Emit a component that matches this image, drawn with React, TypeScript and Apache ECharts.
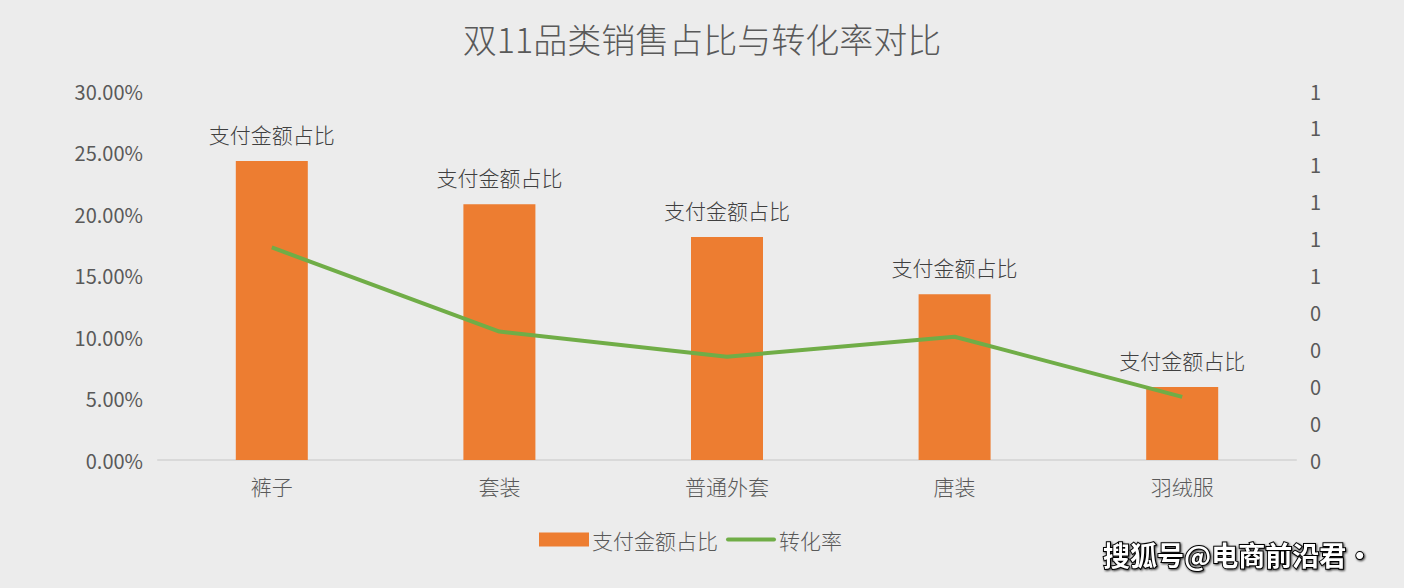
import React, { useEffect, useRef } from "react";
import * as echarts from "echarts";

const categories = ["裤子", "套装", "普通外套", "唐装", "羽绒服"];
const payShare = [0.2431, 0.2079, 0.1813, 0.1347, 0.0593];
const convRate = [0.576, 0.348, 0.28, 0.334, 0.171];
const barName = "支付金额占比";
const lineName = "转化率";
const titleText = "双11品类销售占比与转化率对比";
const watermark = "搜狐号@电商前沿君·";

const FONT = '"Noto Sans CJK SC", "Noto Sans", sans-serif';
const W = 300;

export default function App() {
  const ref = useRef<HTMLDivElement>(null);
  useEffect(() => {
    if (!ref.current) return;
    const chart = echarts.init(ref.current, null, { renderer: "svg" });
    chart.setOption({
      animation: false,
      backgroundColor: "#ececec",
      textStyle: { fontFamily: FONT },
      title: {
        text: titleText,
        left: "center",
        top: 16,
        textStyle: { fontSize: 34, fontWeight: W, color: "#595959", fontFamily: FONT },
      },
      legend: {
        left: 534,
        top: 524,
        itemWidth: 50,
        itemHeight: 14,
        itemGap: 8,
        textStyle: { fontSize: 21, fontWeight: W, color: "#595959", fontFamily: FONT, padding: [0, 0, 0, -2] },
        data: [
          { name: barName, icon: "rect" },
          {
            name: lineName,
            icon: "path://M2,0h46a2,2 0 0 1 0,4h-46a2,2 0 0 1 0,-4z",
            itemStyle: { color: "#70AD47" },
          },
        ],
      },
      grid: { left: 158, right: 108, top: 91, bottom: 128, containLabel: false },
      xAxis: {
        type: "category",
        data: categories,
        axisLine: { lineStyle: { color: "#d9d9d9", width: 2 } },
        axisTick: { show: false },
        axisLabel: { fontSize: 21, fontWeight: W, color: "#595959", margin: 15, fontFamily: FONT },
      },
      yAxis: [
        {
          type: "value",
          min: 0,
          max: 0.3,
          interval: 0.05,
          splitLine: { show: false },
          axisLine: { show: false },
          axisTick: { show: false },
          axisLabel: {
            fontSize: 20,
            color: "#595959",
            margin: 15,
            fontFamily: FONT,
            formatter: (v: number) => (v * 100).toFixed(2) + "%",
          },
        },
        {
          type: "value",
          min: 0,
          max: 1,
          interval: 0.1,
          splitLine: { show: false },
          axisLine: { show: false },
          axisTick: { show: false },
          axisLabel: {
            fontSize: 20,
            color: "#595959",
            margin: 14,
            fontFamily: FONT,
            formatter: (v: number) => String(Math.round(v + 1e-9)),
          },
        },
      ],
      series: [
        {
          name: barName,
          type: "bar",
          data: payShare,
          barWidth: 72,
          itemStyle: { color: "#ED7D31" },
          label: {
            show: true,
            position: "top",
            distance: 17,
            formatter: "{a}",
            fontSize: 21,
            fontWeight: W,
            color: "#404040",
            fontFamily: FONT,
          },
        },
        {
          name: lineName,
          type: "line",
          yAxisIndex: 1,
          data: convRate,
          symbol: "none",
          lineStyle: { color: "#70AD47", width: 4 },
          itemStyle: { color: "#70AD47" },
        },
      ],
      graphic: [
        {
          type: "text",
          left: 1102,
          top: 540,
          style: {
            text: watermark,
            fontSize: 27,
            fontWeight: "bold",
            fill: "#ffffff",
            fontFamily: FONT,
            stroke: "#000000",
            lineWidth: 2,
            textShadowColor: "rgba(0,0,0,0.8)",
            textShadowBlur: 2,
            textShadowOffsetX: 1,
            textShadowOffsetY: 1,
          },
        },
      ],
    });
    return () => chart.dispose();
  }, []);
  return (
    <div
      ref={ref}
      style={{ position: "fixed", left: 0, top: 0, width: 1404, height: 588 }}
    />
  );
}
